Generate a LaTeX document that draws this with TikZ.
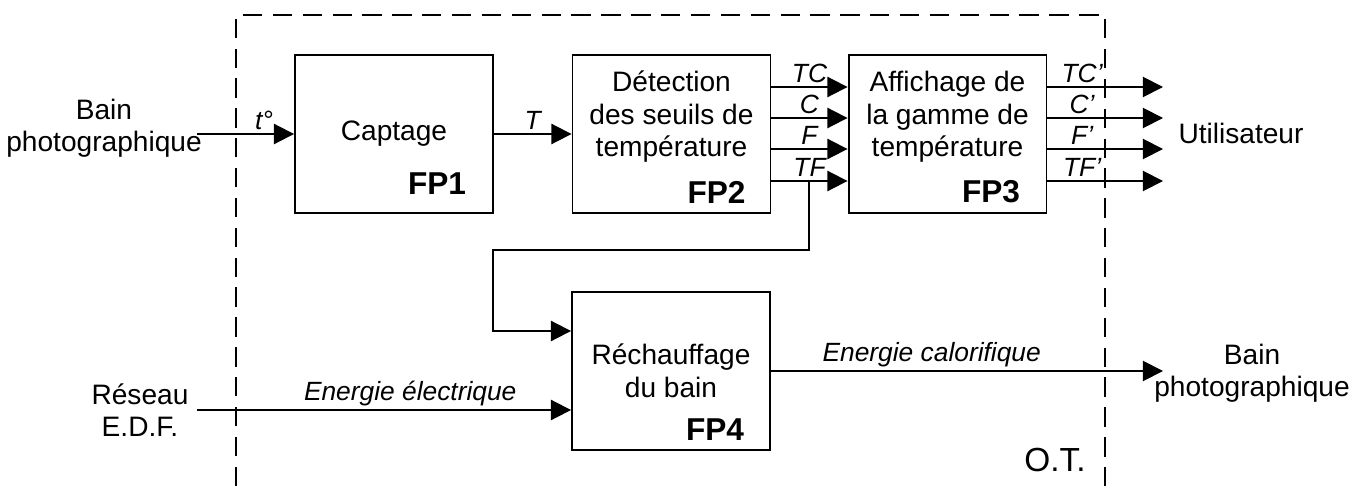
\documentclass[tikz,border=0pt]{standalone}
\usepackage{fontspec}
\setmainfont{Liberation Sans}
\usetikzlibrary{arrows.meta}

\begin{document}
\begin{tikzpicture}[x=0.02cm,y=-0.02cm,
    bloc/.style={draw,line width=1.1pt,minimum width=3.96cm,minimum height=3.16cm},
    txt/.style={align=center,inner sep=1pt,font=\fontsize{16}{18.5}\selectfont},
    fp/.style={font=\fontsize{18}{20}\selectfont\bfseries},
    sig/.style={inner sep=2pt,font=\fontsize{15}{17}\selectfont\itshape},
    fleche/.style={line width=1.1pt,-{Triangle[length=11.5pt,width=11.5pt]}},
    cadre/.style={line width=1.1pt,dash pattern=on 11pt off 6pt}]
      \useasboundingbox (0,0) rectangle (1351,486);
      \draw[cadre] (236,486) -- (236,15) -- (1105,15) -- (1105,486);
      \node[txt] (ot) at (1055,460) {\fontsize{19}{21}\selectfont O.T.};

      \node[bloc,txt] (fp1) at (394,134) {Captage};
      \node[fp] (fp1n) at (437,184) {FP1};
      \node[bloc] (fp2) at (671.5,134) {};
      \node[txt] (fp2t) at (671.5,117) {Détection\\des seuils de\\température};
      \node[fp] (fp2n) at (716.5,192) {FP2};
      \node[bloc] (fp3) at (947.5,134) {};
      \node[txt] (fp3t) at (947.5,117) {Affichage de\\la gamme de\\température};
      \node[fp] (fp3n) at (991,192) {FP3};
      \node[bloc] (fp4) at (671,371) {};
      \node[txt] (fp4t) at (671,371) {Réchauffage\\du bain};
      \node[fp] (fp4n) at (715,430) {FP4};

      \node[txt] (bain1) at (104,128) {Bain\\photographique};
      \node[txt] (edf) at (140,410) {Réseau\\E.D.F.};
      \node[txt] (util) at (1241,133) {Utilisateur};
      \node[txt] (bain2) at (1252,373) {Bain\\photographique};

      \coordinate (bainout) at (197,134);
      \coordinate (edfout) at (197,410);
      \coordinate (calo) at (1163,371);
      \draw[fleche] (bainout) -- node[sig,above,pos=.69] (lt) {t°} (fp1.west |- bainout);
      \draw[fleche] (fp1.east) -- node[sig,above] (lT) {T} (fp2.west);
      \foreach \y/\lab/\labp [count=\i] in {87/TC/TC',118/C/C',149/F/F',181/TF/TF'} {
        \coordinate (s\i) at (809,\y);
        \coordinate (o\i) at (1163,\y);
        \draw[fleche] (fp2.east |- s\i) -- node[sig,above] (la\i) {\lab} (fp3.west |- s\i);
        \draw[fleche] (fp3.east |- o\i) -- node[sig,above,pos=.3] (lb\i) {\labp} (o\i);
      }
      \coordinate (coude) at (493,250);
      \coordinate (retour) at (493,331);
      \draw[fleche] (s4) |- (coude) |- (fp4.west |- retour);
      \draw[fleche] (edfout) -- node[sig,above,pos=.57] (lelec) {Energie électrique} (fp4.west |- edfout);
      \draw[fleche] (fp4.east) -- node[sig,above,pos=.41] (lcalo) {Energie calorifique} (calo);
    \end{tikzpicture}
\end{document}
